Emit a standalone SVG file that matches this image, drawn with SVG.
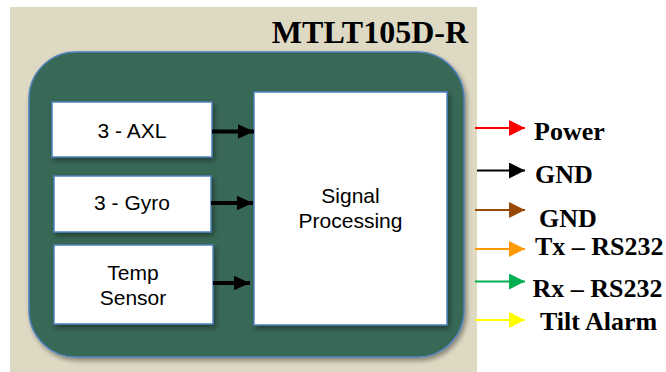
<svg xmlns="http://www.w3.org/2000/svg" width="666" height="372" viewBox="0 0 666 372">
<defs>
<filter id="sh" x="-10%" y="-10%" width="130%" height="130%">
<feDropShadow dx="2" dy="3" stdDeviation="2.5" flood-color="#000" flood-opacity="0.4"/>
</filter>
<marker id="bk" markerWidth="4" markerHeight="3.6" refX="4" refY="1.8" orient="auto" markerUnits="strokeWidth"><path d="M0,0 L4,1.8 L0,3.6 Z" fill="#000"/></marker>
<marker id="ar-red" markerWidth="8" markerHeight="8" refX="8" refY="4" orient="auto" markerUnits="strokeWidth"><path d="M0,0 L8,4 L0,8 Z" fill="#FF0000"/></marker>
<marker id="ar-blk" markerWidth="8" markerHeight="8" refX="8" refY="4" orient="auto" markerUnits="strokeWidth"><path d="M0,0 L8,4 L0,8 Z" fill="#000"/></marker>
<marker id="ar-brn" markerWidth="8" markerHeight="8" refX="8" refY="4" orient="auto" markerUnits="strokeWidth"><path d="M0,0 L8,4 L0,8 Z" fill="#984807"/></marker>
<marker id="ar-org" markerWidth="8" markerHeight="8" refX="8" refY="4" orient="auto" markerUnits="strokeWidth"><path d="M0,0 L8,4 L0,8 Z" fill="#FF9900"/></marker>
<marker id="ar-grn" markerWidth="8" markerHeight="8" refX="8" refY="4" orient="auto" markerUnits="strokeWidth"><path d="M0,0 L8,4 L0,8 Z" fill="#00B050"/></marker>
<marker id="ar-yel" markerWidth="8" markerHeight="8" refX="8" refY="4" orient="auto" markerUnits="strokeWidth"><path d="M0,0 L8,4 L0,8 Z" fill="#FFFF00"/></marker>
</defs>
<style>
.box{fill:#fff;stroke:#4F81BD;stroke-width:1.5;filter:url(#sh)}
.lbl{font-family:"Liberation Sans",Arial,sans-serif;font-size:21px;fill:#000;text-anchor:middle}
.sig{font-family:"Liberation Serif","Times New Roman",serif;font-weight:bold;font-size:26px;fill:#000}
.blk{stroke:#000;stroke-width:4;fill:none;marker-end:url(#bk)}
.out{stroke-width:2;fill:none}
</style>
<rect x="10" y="7" width="467" height="365" fill="#DDD9C3"/>
<text x="468" y="43" font-family="'Liberation Serif','Times New Roman',serif" font-weight="bold" font-size="32" text-anchor="end">MTLT105D-R</text>
<g id="module">
<rect x="29" y="52" width="435" height="305" rx="47" ry="47" fill="#386756" stroke="#4F81BD" stroke-width="1.5" filter="url(#sh)"/>
</g>
<g id="axl">
<rect class="box" x="52" y="102" width="160" height="55"/>
<text class="lbl" x="132" y="138">3 - AXL</text>
</g>
<g id="gyro">
<rect class="box" x="54" y="176" width="157" height="56"/>
<text class="lbl" x="132" y="210">3 - Gyro</text>
</g>
<g id="temp">
<rect class="box" x="54" y="245" width="159" height="79"/>
<text class="lbl" x="133" y="280">Temp</text>
<text class="lbl" x="133" y="305">Sensor</text>
</g>
<g id="signal">
<rect class="box" x="254" y="92" width="193" height="233"/>
<text class="lbl" x="350.5" y="203">Signal</text>
<text class="lbl" x="350.5" y="228">Processing</text>
</g>
<g id="connectors">
<line class="blk" x1="212" y1="131.5" x2="254" y2="131.5"/>
<line class="blk" x1="211" y1="203" x2="253" y2="203"/>
<line class="blk" x1="213" y1="283" x2="250" y2="283"/>
<line class="out" x1="475" y1="128" x2="525" y2="128" stroke="#FF0000" marker-end="url(#ar-red)"/>
<line class="out" x1="477" y1="170.5" x2="525" y2="170.5" stroke="#000" marker-end="url(#ar-blk)"/>
<line class="out" x1="475" y1="210" x2="525" y2="210" stroke="#984807" marker-end="url(#ar-brn)"/>
<line class="out" x1="475" y1="249" x2="525" y2="249" stroke="#FF9900" marker-end="url(#ar-org)"/>
<line class="out" x1="475" y1="281.5" x2="525" y2="281.5" stroke="#00B050" marker-end="url(#ar-grn)"/>
<line class="out" x1="475" y1="320" x2="525" y2="320" stroke="#FFFF00" marker-end="url(#ar-yel)"/>
</g>
<g id="signals">
<text class="sig" x="534" y="140">Power</text>
<text class="sig" x="535" y="183">GND</text>
<text class="sig" x="539" y="226.5">GND</text>
<text class="sig" x="535" y="255">Tx – RS232</text>
<text class="sig" x="532.5" y="297">Rx – RS232</text>
<text class="sig" x="540" y="330">Tilt Alarm</text>
</g>
</svg>
